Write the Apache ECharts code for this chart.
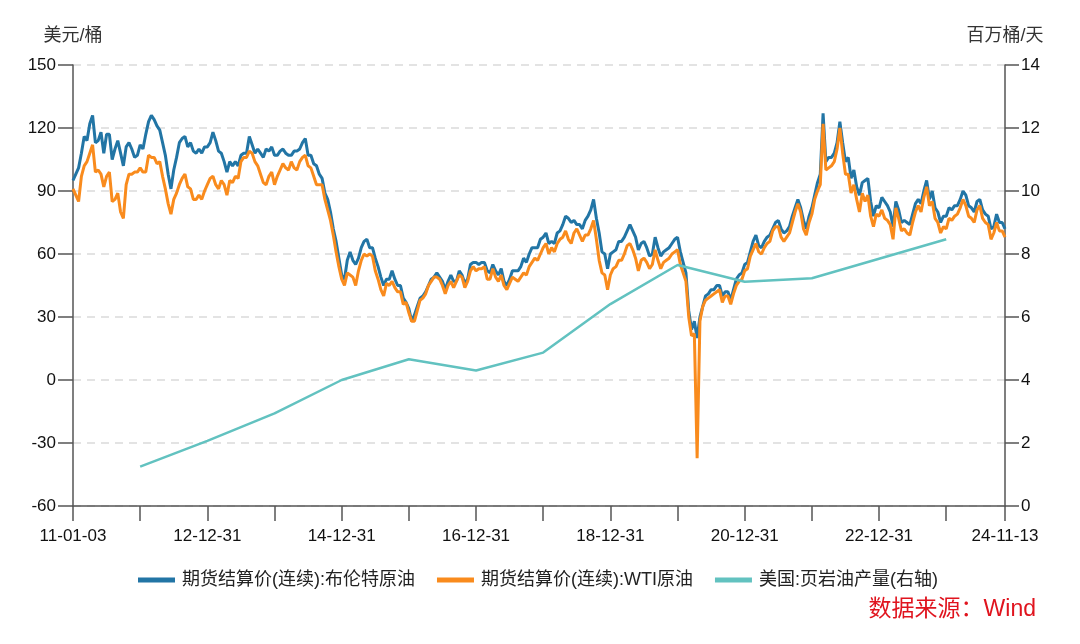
<!DOCTYPE html>
<html>
<head>
<meta charset="utf-8">
<script src="https://cdn.jsdelivr.net/npm/echarts@6/dist/echarts.min.js"></script>
<style>
html,body{margin:0;padding:0;background:#fff;}
#chart{width:1080px;height:644px;}
</style>
</head>
<body>
<div id="chart"></div>
<script>
// ---- Data (semi-monthly readings, 2011-01-03 .. 2024-11-13) ----
// Each year: Jan(1st half, 2nd half), Feb(...), ... Dec(...)
const brent2011 = [95,98, 101,108, 116,114, 122,126, 113,114, 118,108, 117,117, 105,110, 114,108, 102,111, 113,110, 106,107];
const brent2012 = [112,110, 117,123, 126,124, 121,119, 113,107, 98,91, 100,106, 113,115, 116,111, 113,109, 108,110, 108,111];
const brent2013 = [111,113, 118,114, 109,108, 104,99, 104,102, 104,102, 107,108, 108,116, 112,108, 110,108, 106,110, 109,111];
const brent2014 = [107,107, 109,110, 108,107, 107,109, 109,110, 113,115, 107,107, 103,102, 98,96, 89,86, 80,72, 66,58];
const brent2015 = [50,48, 57,61, 57,55, 58,63, 66,67, 63,63, 58,54, 49,45, 48,48, 52,48, 45,45, 39,37];
const brent2016 = [34,28, 31,35, 39,40, 42,45, 48,49, 51,49, 47,43, 47,50, 47,47, 52,50, 46,48, 55,56];
const brent2017 = [56,55, 56,56, 52,51, 55,52, 50,53, 47,45, 48,52, 52,52, 54,58, 56,60, 63,63, 63,67];
const brent2018 = [68,70, 65,66, 65,70, 71,74, 78,77, 75,76, 74,74, 72,76, 78,81, 86,77, 70,61, 60,53];
const brent2019 = [60,61, 62,66, 66,68, 71,74, 71,68, 62,65, 66,63, 59,60, 68,63, 59,61, 62,63, 65,67];
const brent2020 = [68,61, 56,51, 33,24, 28,20, 30,35, 40,41, 43,43, 45,45, 40,42, 42,38, 43,48, 50,51];
const brent2021 = [55,56, 61,66, 69,64, 63,66, 68,69, 72,75, 76,72, 70,71, 73,78, 82,86, 82,76, 72,78];
const brent2022 = [82,88, 94,98, 127,104, 106,106, 108,113, 123,113, 104,106, 96,100, 92,88, 94,95, 96,85, 78,83];
const brent2023 = [82,87, 85,83, 80,73, 85,81, 75,76, 75,74, 79,84, 86,84, 90,95, 86,90, 82,80, 75,78];
const brent2024 = [78,82, 81,83, 83,86, 90,88, 83,82, 80,85, 86,81, 79,78, 72,73, 79,75, 75,72];

const wti2011 = [91,88, 85,97, 102,104, 108,112, 99,100, 98,92, 97,99, 85,86, 89,80, 77,93, 98,98, 99,99];
const wti2012 = [101,99, 99,107, 106,106, 103,104, 97,91, 84,79, 86,89, 93,96, 98,92, 91,86, 86,88, 86,90];
const wti2013 = [93,96, 97,93, 91,95, 93,88, 95,94, 97,96, 104,106, 106,109, 108,104, 102,98, 94,93, 97,99];
const wti2014 = [93,97, 100,103, 101,100, 104,101, 100,104, 106,107, 102,101, 97,93, 93,93, 86,81, 76,69, 61,54];
const wti2015 = [48,45, 51,50, 49,45, 52,57, 60,59, 60,59, 52,48, 43,40, 46,45, 47,44, 42,42, 36,37];
const wti2016 = [32,28, 28,33, 38,39, 41,45, 47,49, 49,48, 45,41, 45,47, 44,47, 50,49, 44,47, 52,54];
const wti2017 = [52,53, 53,54, 48,48, 53,49, 47,50, 45,43, 46,49, 48,47, 49,51, 50,54, 56,58, 57,60];
const wti2018 = [63,65, 60,63, 61,65, 67,68, 71,67, 65,70, 72,69, 66,69, 69,72, 76,67, 57,51, 50,43];
const wti2019 = [50,53, 54,57, 57,60, 64,65, 62,58, 52,57, 58,56, 53,55, 62,57, 53,56, 57,58, 60,61];
const wti2020 = [62,55, 51,47, 30,21, 22,-37.3, 28,35, 38,39, 40,41, 42,43, 37,40, 40,36, 41,45, 47,48];
const wti2021 = [52,53, 59,62, 65,61, 60,63, 65,66, 71,73, 73,68, 66,68, 70,75, 80,84, 80,72, 69,75];
const wti2022 = [79,86, 90,93, 122,100, 101,102, 104,110, 120,108, 98,98, 89,93, 86,80, 89,85, 88,78, 73,79];
const wti2023 = [78,81, 77,76, 74,67, 82,77, 71,72, 70,69, 75,80, 83,80, 87,92, 83,85, 77,75, 70,73];
const wti2024 = [72,77, 76,78, 79,82, 86,83, 78,77, 75,81, 83,77, 75,74, 67,70, 75,71, 71,68];

// US shale oil production (million barrels/day), one reading per year, at category index
const shaleIndex = [24, 48, 72, 96, 120, 144, 168, 192, 216, 240, 264, 288, 312];
const shaleValue = [1.25, 2.07, 2.94, 4.0, 4.66, 4.30, 4.87, 6.41, 7.65, 7.12, 7.23, 7.85, 8.47];

// x-axis tick labels
const tickIndex = [0, 48, 96, 144, 192, 240, 288, 333];
const tickText = ['11-01-03', '12-12-31', '14-12-31', '16-12-31', '18-12-31', '20-12-31', '22-12-31', '24-11-13'];

const seriesNames = ['期货结算价(连续):布伦特原油', '期货结算价(连续):WTI原油', '美国:页岩油产量(右轴)'];

// ---- build ----
const brent = [].concat(brent2011, brent2012, brent2013, brent2014, brent2015, brent2016, brent2017,
  brent2018, brent2019, brent2020, brent2021, brent2022, brent2023, brent2024);
const wti = [].concat(wti2011, wti2012, wti2013, wti2014, wti2015, wti2016, wti2017,
  wti2018, wti2019, wti2020, wti2021, wti2022, wti2023, wti2024);
const N = brent.length;
const categories = [];
for (let i = 0; i < N; i++) {
  const y = 2011 + Math.floor(i / 24);
  const m = Math.floor((i % 24) / 2) + 1;
  categories.push(y + '-' + (m < 10 ? '0' + m : m) + (i % 2 ? 'b' : 'a'));
}
const shale = new Array(N).fill(null);
shaleIndex.forEach((idx, k) => { shale[idx] = shaleValue[k]; });
const lastIdx = N - 1;
const labelMap = {};
tickIndex.forEach((idx, k) => { labelMap[idx] = tickText[k]; });

const FONT = "'Liberation Sans', 'Noto Sans CJK SC', sans-serif";
const chart = echarts.init(document.getElementById('chart'));
chart.setOption({
  animation: false,
  textStyle: { fontFamily: FONT },
  grid: { left: 73, right: 75, top: 65, bottom: 138, containLabel: false },
  legend: {
    data: seriesNames,
    top: 566,
    left: 133,
    icon: 'rect',
    itemWidth: 37,
    itemHeight: 5,
    itemGap: 22,
    textStyle: { fontSize: 18, color: '#222', fontFamily: FONT, padding: [0, 0, 0, 2] }
  },
  xAxis: {
    type: 'category',
    data: categories,
    boundaryGap: false,
    axisLine: { onZero: false, lineStyle: { color: '#555', width: 1.5 } },
    axisTick: {
      length: 15,
      lineStyle: { color: '#555', width: 1.5 },
      interval: function (idx) { return idx % 24 === 0 || idx === lastIdx; }
    },
    axisLabel: {
      interval: function (idx) { return labelMap[idx] !== undefined; },
      formatter: function (v, idx) { return labelMap[idx] !== undefined ? labelMap[idx] : ''; },
      margin: 22,
      fontSize: 17,
      color: '#111',
      fontFamily: FONT
    },
    splitLine: { show: false }
  },
  yAxis: [
    {
      type: 'value',
      min: -60, max: 150, interval: 30,
      name: '美元/桶',
      nameLocation: 'end',
      nameGap: 20,
      nameTextStyle: { fontSize: 18, color: '#333', fontFamily: FONT, align: 'center' },
      axisLine: { show: true, lineStyle: { color: '#555', width: 1.5 } },
      axisTick: { show: true, length: 15, lineStyle: { color: '#555', width: 1.5 } },
      axisLabel: { margin: 17, fontSize: 17, color: '#111', fontFamily: FONT },
      splitLine: { show: true, lineStyle: { color: '#dadada', type: [8, 6], width: 1.5 } }
    },
    {
      type: 'value',
      min: 0, max: 14, interval: 2,
      position: 'right',
      name: '百万桶/天',
      nameLocation: 'end',
      nameGap: 20,
      nameTextStyle: { fontSize: 18, color: '#333', fontFamily: FONT, align: 'center' },
      axisLine: { show: true, lineStyle: { color: '#555', width: 1.5 } },
      axisTick: { show: true, length: 14, lineStyle: { color: '#555', width: 1.5 } },
      axisLabel: { margin: 16, fontSize: 17, color: '#111', fontFamily: FONT },
      splitLine: { show: false }
    }
  ],
  series: [
    {
      name: seriesNames[0], type: 'line', data: brent, yAxisIndex: 0,
      showSymbol: false, symbol: 'none',
      lineStyle: { color: '#2275a5', width: 3 }, itemStyle: { color: '#2275a5' }
    },
    {
      name: seriesNames[1], type: 'line', data: wti, yAxisIndex: 0,
      showSymbol: false, symbol: 'none',
      lineStyle: { color: '#f98b1d', width: 3 }, itemStyle: { color: '#f98b1d' }
    },
    {
      name: seriesNames[2], type: 'line', data: shale, yAxisIndex: 1,
      connectNulls: true, showSymbol: false, symbol: 'none',
      lineStyle: { color: '#62c2c0', width: 2.5 }, itemStyle: { color: '#62c2c0' }
    }
  ],
  graphic: [
    {
      type: 'text', right: 44, top: 598,
      style: { text: '数据来源：Wind', fill: '#e0141e', fontSize: 23, fontFamily: FONT }
    }
  ]
});
</script>
</body>
</html>
